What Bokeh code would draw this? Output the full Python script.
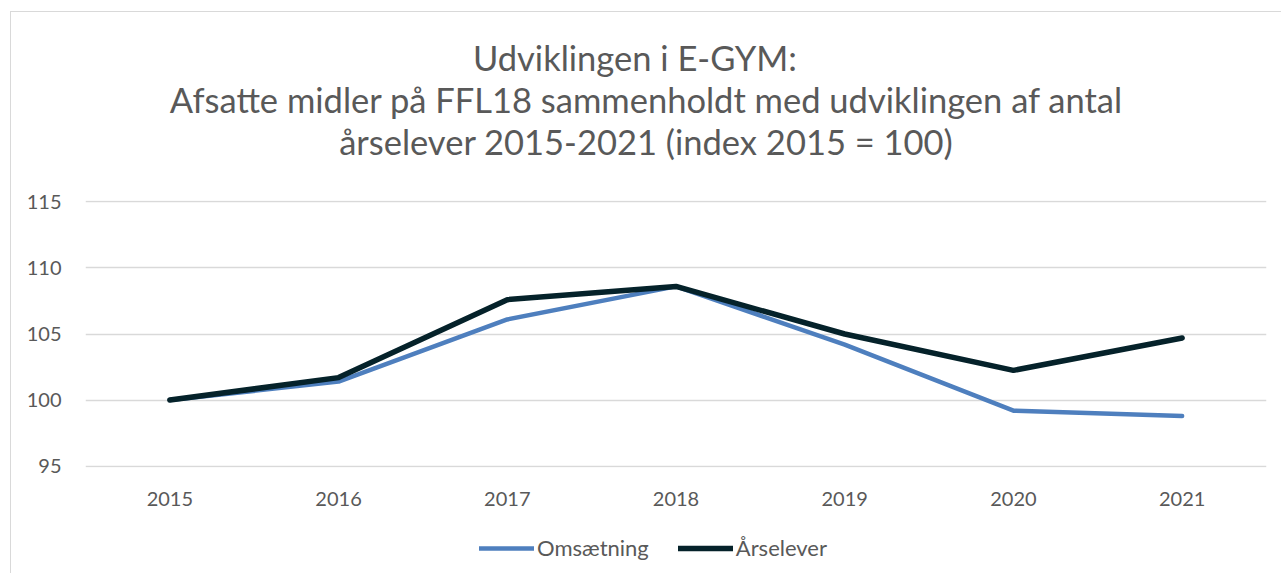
from bokeh.plotting import figure
from bokeh.models import Legend, LegendItem, FactorRange, Range1d, FixedTicker, Div
from bokeh.layouts import column
from bokeh.embed import file_html
from bokeh.resources import INLINE

years = ["2015", "2016", "2017", "2018", "2019", "2020", "2021"]
omsaetning = [100.0, 101.4, 106.1, 108.6, 104.2, 99.2, 98.8]
aarselever = [100.0, 101.7, 107.6, 108.6, 105.0, 102.25, 104.7]
y_ticks = [95, 100, 105, 110, 115]
title_lines = [
    "Udviklingen i E-GYM:",
    "Afsatte midler på FFL18 sammenholdt med udviklingen af antal",
    "årselever 2015-2021 (index 2015 = 100)",
]
series_names = ["Omsætning", "Årselever"]
series_colors = ["#4E7FBE", "#05222A"]

FONT = "Lato"
GREY = "#595959"

line_styles = ["display:block;padding-right:22px;", "display:block;", "display:block;"]
title_html = (
    '<div style="width:1262px;padding-left:8px;text-align:center;font-family:Lato;font-size:34.5px;'
    'line-height:42px;color:#595959;padding-top:25px;margin:0;">'
    + "".join('<span style="%s">%s</span>' % (s, t) for s, t in zip(line_styles, title_lines))
    + "</div>"
)
title_div = Div(text=title_html, width=1270, height=152, margin=0)

p = figure(
    x_range=FactorRange(*years, range_padding=0),
    y_range=Range1d(94.9, 115.1),
    frame_width=1181, frame_height=267,
    min_border_left=74, min_border_top=36, min_border_right=15, min_border_bottom=50,
    output_backend="svg", toolbar_location=None, margin=0,
)
p.outline_line_color = None
p.background_fill_color = "white"
p.border_fill_color = "white"

p.xgrid.grid_line_color = None
p.ygrid.grid_line_color = "#d9d9d9"
p.ygrid.grid_line_width = 1.5

p.yaxis.ticker = FixedTicker(ticks=y_ticks)
for ax in (p.xaxis, p.yaxis):
    ax.axis_line_color = None
    ax.major_tick_line_color = None
    ax.minor_tick_line_color = None
    ax.major_label_text_font = FONT
    ax.major_label_text_font_size = "20px"
    ax.major_label_text_color = GREY
p.yaxis.major_label_standoff = 18
p.xaxis.major_label_standoff = 18

p.line(years, omsaetning, line_color=series_colors[0], line_width=4.5, line_join="round", line_cap="round")
p.line(years, aarselever, line_color=series_colors[1], line_width=5.5, line_join="round", line_cap="round")

# legend strip (separate figure so it can be placed precisely); its lines carry the
# same data but lie outside this strip's y range, so only the legend shows
lg = figure(
    width=1270, height=56, x_range=FactorRange(*years, range_padding=0), y_range=Range1d(0, 1),
    x_axis_type=None, y_axis_type=None, min_border=0,
    output_backend="svg", toolbar_location=None, margin=0,
)
lg.outline_line_color = None
lg.xgrid.grid_line_color = None
lg.ygrid.grid_line_color = None
lr1 = lg.line(years, omsaetning, line_color=series_colors[0], line_width=4.5, line_cap="round")
lr2 = lg.line(years, aarselever, line_color=series_colors[1], line_width=5.5, line_cap="round")
legend = Legend(
    items=[LegendItem(label=series_names[0], renderers=[lr1]),
           LegendItem(label=series_names[1], renderers=[lr2])],
    orientation="horizontal", location=(394, 12),
    label_text_font=FONT, label_text_font_size="22px", label_text_color=GREY,
    glyph_width=55, label_standoff=3, spacing=29, border_line_color=None,
    background_fill_alpha=0, margin=0, padding=0,
)
lg.add_layout(legend, "center")

layout = column(
    title_div, p, lg, spacing=0,
    styles={"margin-left": "10px", "margin-top": "11px",
            "border-left": "1px solid #d9d9d9", "border-top": "1px solid #d9d9d9"},
)

open("out.html", "w").write(file_html(layout, INLINE))
